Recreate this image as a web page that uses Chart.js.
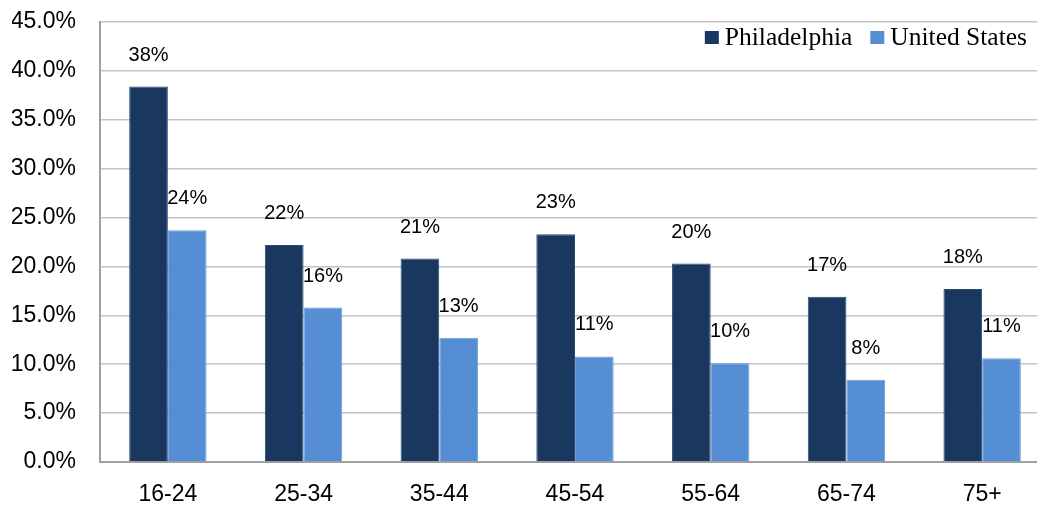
<!DOCTYPE html>
<html>
<head>
<meta charset="utf-8">
<script src="https://cdn.jsdelivr.net/npm/chart.js@4"></script>
<style>
  html, body { margin: 0; padding: 0; background: #fff; overflow: hidden; }
  canvas { display: block; }
</style>
</head>
<body>
<canvas id="chart" width="1050" height="507"></canvas>
<script>
const ageGroups = ["16-24", "25-34", "35-44", "45-54", "55-64", "65-74", "75+"];
const philadelphia = [38.4, 22.2, 20.8, 23.3, 20.3, 16.9, 17.7];
const unitedStates = [23.7, 15.8, 12.7, 10.8, 10.1, 8.4, 10.6];

// labels above each bar, rounded to whole percent
const barLabels = {
    id: "barLabels",
    afterDatasetsDraw(chart) {
        const ctx = chart.ctx;
        ctx.save();
        ctx.font = "20px 'Liberation Sans', sans-serif";
        ctx.fillStyle = "#000";
        ctx.textAlign = "center";
        ctx.textBaseline = "alphabetic";
        chart.data.datasets.forEach((ds, i) => {
            chart.getDatasetMeta(i).data.forEach((bar, j) => {
                ctx.fillText(Math.round(ds.data[j]) + "%", bar.x, bar.y - 26);
            });
        });
        ctx.restore();
    }
};

// legend in the top right corner of the plot, drawn right to left
const cornerLegend = {
    id: "cornerLegend",
    afterDraw(chart) {
        const ctx = chart.ctx;
        ctx.save();
        ctx.font = "25.5px 'Liberation Serif', serif";
        ctx.textBaseline = "alphabetic";
        ctx.textAlign = "left";
        let x = 1027;
        const items = chart.data.datasets.slice().reverse();
        items.forEach(ds => {
            const w = ctx.measureText(ds.label).width;
            x -= w;
            ctx.fillStyle = "#000";
            ctx.fillText(ds.label, x, 45);
            x -= 6 + 14;
            ctx.fillStyle = ds.backgroundColor;
            ctx.fillRect(x, 31, 14, 13);
            x -= 18;
        });
        ctx.restore();
    }
};

new Chart(document.getElementById("chart"), {
    type: "bar",
    data: {
        labels: ageGroups,
        datasets: [{
            label: "Philadelphia",
            data: philadelphia,
            backgroundColor: "#1a375f",
            borderColor: "#2b4a75",
            borderWidth: 1
        }, {
            label: "United States",
            data: unitedStates,
            backgroundColor: "#558ed5",
            borderColor: "#6b9ddb",
            borderWidth: 1
        }]
    },
    options: {
        responsive: false,
        animation: false,
        layout: { padding: { top: 0, left: 12, right: 0, bottom: 0 } },
        datasets: { bar: { categoryPercentage: 0.57, barPercentage: 1 } },
        scales: {
            x: {
                grid: { display: false, drawTicks: false },
                border: { color: "#a0a0a0", width: 2 },
                ticks: {
                    color: "#000",
                    padding: 19,
                    font: { family: "'Liberation Sans', sans-serif", size: 23 }
                },
                afterFit: s => { s.height = 45; }
            },
            y: {
                min: 0,
                max: 45,
                grid: { color: "#c4c4c4", lineWidth: 1.5, drawTicks: false },
                border: { color: "#a0a0a0", width: 2 },
                ticks: {
                    stepSize: 5,
                    color: "#000",
                    padding: 24,
                    font: { family: "'Liberation Sans', sans-serif", size: 23 },
                    callback: v => v.toFixed(1) + "%"
                },
                afterFit: s => { s.width = 88; s.paddingTop = 22; }
            }
        },
        plugins: {
            legend: { display: false },
            tooltip: { enabled: false }
        }
    },
    plugins: [barLabels, cornerLegend]
});
</script>
</body>
</html>
